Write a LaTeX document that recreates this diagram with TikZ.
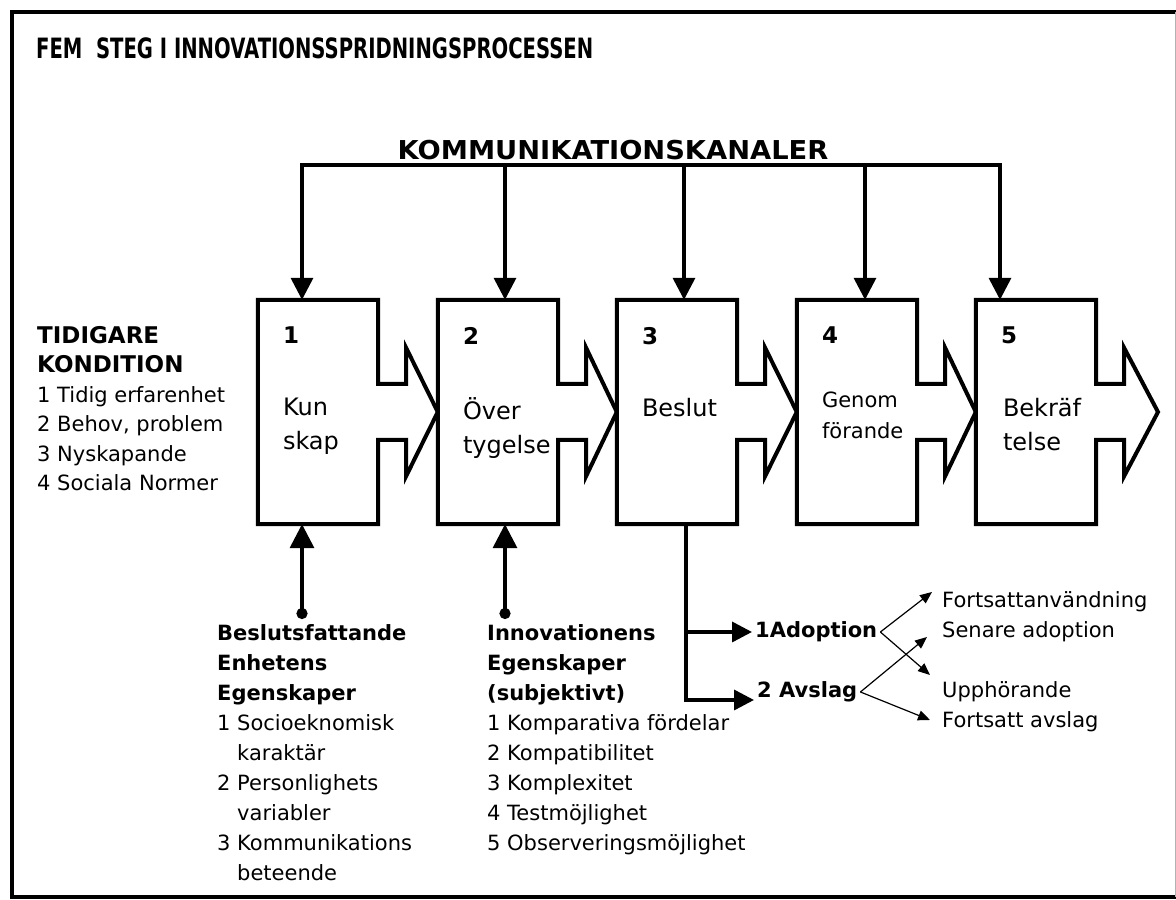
\documentclass[tikz,border=0pt]{standalone}
\usepackage{fontspec}
\setmainfont{DejaVu Sans}
\usetikzlibrary{arrows.meta}

\begin{document}
\begin{tikzpicture}[
    x=1pt, y=1pt,
    stagebox/.style={minimum width=120pt, minimum height=224pt, inner sep=0pt},
    outline/.style={line width=4pt, fill=white},
    chan/.style={line width=3.5pt, -{Triangle[length=22pt,width=22pt]}},
    feed/.style={line width=3.5pt, {Circle[length=11pt]}-{Triangle[length=24pt,width=24pt]}},
    flow/.style={line width=3.5pt, -{Triangle[length=20pt,width=20pt]}},
    branch/.style={line width=1.2pt, -{Triangle[length=12pt,width=10pt]}},
    num/.style={anchor=north west, inner sep=0pt, font=\fontsize{23}{23}\selectfont\bfseries},
    boxtext/.style={anchor=north west, inner sep=0pt, align=left, font=\fontsize{24}{34}\selectfont},
    body/.style={anchor=north west, inner sep=0pt, align=left, font=\fontsize{21}{30}\selectfont},
    pick/.style={anchor=west, inner sep=3pt, font=\fontsize{21}{21}\selectfont\bfseries},
    result/.style={anchor=west, inner sep=0pt, font=\fontsize{21}{21}\selectfont},
  ]

% ram
\useasboundingbox (0,0) rectangle (1176,900);
\fill[white] (0,0) rectangle (1176,900);
\draw[line width=4pt] (1176,888) -- (12,888) -- (12,3) -- (1176,3);
\draw[black!30, line width=1pt] (1175,3) -- (1175,888);

\node[anchor=west, inner sep=0pt, font=\fontsize{28}{28}\selectfont\bfseries] (title) at (36,852)
  {\scalebox{0.7}[1]{FEM\ \ STEG I INNOVATIONSSPRIDNINGSPROCESSEN}};

% de fem stegen
\foreach \i/\x in {1/318,2/498,3/677,4/857,5/1036}
  \node[stagebox] (s\i) at (\x,488) {};
\coordinate (tip) at (1158,488);
\foreach \i/\j in {1/s2.west,2/s3.west,3/s4.west,4/s5.west,5/tip}
  \draw[outline] (s\i.north west) -- (s\i.north east) -- ([yshift=28pt]s\i.east)
    -- ([shift={(28pt,28pt)}]s\i.east) -- ([shift={(28pt,64pt)}]s\i.east) -- (\j)
    -- ([shift={(28pt,-64pt)}]s\i.east) -- ([shift={(28pt,-28pt)}]s\i.east)
    -- ([yshift=-28pt]s\i.east) -- (s\i.south east) -- (s\i.south west) -- cycle;
\foreach \i in {1,...,5}
  \node[num] (n\i) at ([shift={(25pt,-27pt)}]s\i.north west) {\i};
\node[boxtext] (k1) at ([shift={(25pt,-98pt)}]s1.north west) {Kun\\skap};
\node[boxtext] (k2) at ([shift={(25pt,-98pt)}]s2.north west) {Över\\tygelse};
\node[boxtext] (k3) at ([shift={(25pt,-98pt)}]s3.north west) {Beslut};
\node[boxtext, font=\fontsize{21}{31}\selectfont] (k4) at ([shift={(25pt,-92pt)}]s4.north west) {Genom\\förande};
\node[boxtext] (k5) at ([shift={(27pt,-98pt)}]s5.north west) {Bekräf\\telse};

% kanaler
\node[anchor=base, inner sep=0pt, font=\fontsize{26}{26}\selectfont\bfseries] (kanal) at (613,740)
  {\scalebox{1.05}[1]{KOMMUNIKATIONSKANALER}};
\foreach \i/\x in {1/302,2/505,3/684,4/865,5/1000} {
  \coordinate (c\i) at (\x,735);
  \draw[chan] (c\i) -- (c\i |- s\i.north);
}
\draw[line width=3.5pt, line cap=rect] (c1) -- (c5);

\node[body, font=\fontsize{21}{29.5}\selectfont] (tidigare) at (37,574)
  {\textbf{\fontsize{23}{29.5}\selectfont TIDIGARE}\\\textbf{\fontsize{23}{29.5}\selectfont KONDITION}\\1 Tidig erfarenhet\\2 Behov, problem\\3 Nyskapande\\4 Sociala Normer};

% egenskaper
\coordinate (u1) at (302,281);
\coordinate (u2) at (505,281);
\draw[feed] (u1) -- (u1 |- s1.south);
\draw[feed] (u2) -- (u2 |- s2.south);
\node[body] (enhet) at (217,276)
  {\textbf{Beslutsfattande}\\\textbf{Enhetens}\\\textbf{Egenskaper}\\1 Socioeknomisk\\\phantom{1 }karaktär\\2 Personlighets\\\phantom{1 }variabler\\3 Kommunikations\\\phantom{1 }beteende};
\node[body] (innov) at (487,276)
  {\textbf{Innovationens}\\\textbf{Egenskaper}\\\textbf{(subjektivt)}\\1 Komparativa fördelar\\2 Kompatibilitet\\3 Komplexitet\\4 Testmöjlighet\\5 Observeringsmöjlighet};

% beslut
\node[pick] (adoption) at (752,268) {1Adoption};
\node[pick] (avslag) at (754,208) {2 Avslag};
\draw[flow] ([xshift=9pt]s3.south) |- ([yshift=-8pt]avslag.west);
\draw[flow] ([xshift=9pt]s3.south |- adoption.west) -- (adoption.west);

\node[result] (fortsatt) at (942,298) {Fortsattanvändning};
\node[result] (senare) at (942,268) {Senare adoption};
\node[result] (upphor) at (942,208) {Upphörande};
\node[result] (fortavslag) at (942,178) {Fortsatt avslag};
\draw[branch] (adoption.east) -- ([shift={(-10pt,10pt)}]fortsatt.west);
\draw[branch] (adoption.east) -- ([shift={(-12pt,17pt)}]upphor.west);
\draw[branch] (avslag.east) -- ([shift={(-15pt,-5pt)}]senare.west);
\draw[branch] (avslag.east) -- ([shift={(-12pt,2pt)}]fortavslag.west);
\end{tikzpicture}
\end{document}
